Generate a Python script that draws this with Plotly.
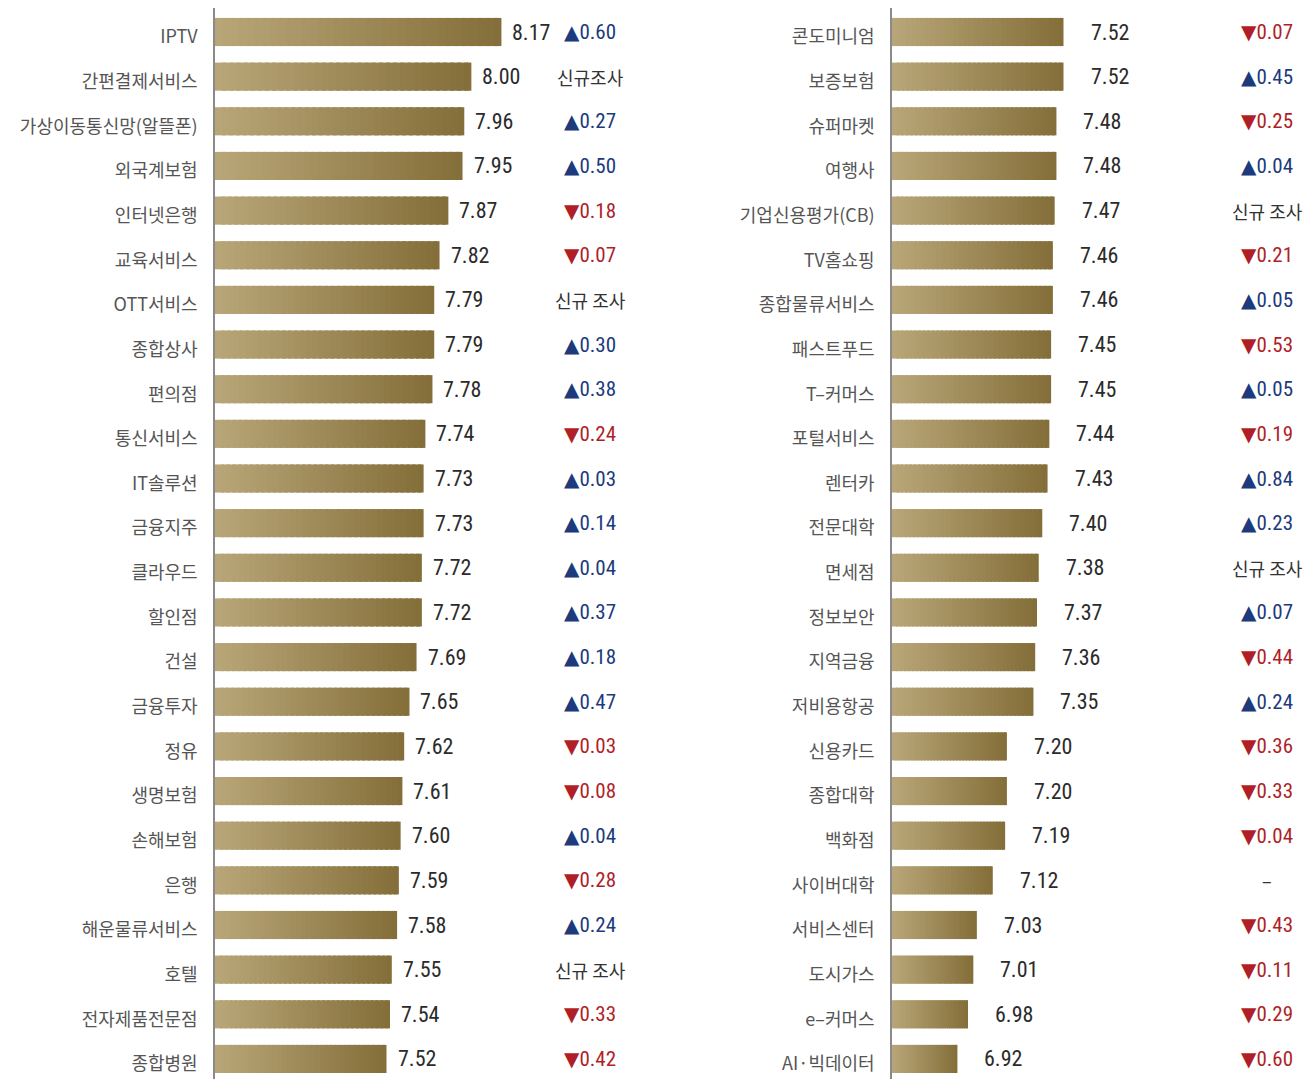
import plotly.graph_objects as go

left_labels = ["IPTV", "간편결제서비스", "가상이동통신망(알뜰폰)", "외국계보험", "인터넷은행", "교육서비스",
               "OTT서비스", "종합상사", "편의점", "통신서비스", "IT솔루션", "금융지주", "클라우드", "할인점",
               "건설", "금융투자", "정유", "생명보험", "손해보험", "은행", "해운물류서비스", "호텔",
               "전자제품전문점", "종합병원"]
left_values = [8.17, 8.00, 7.96, 7.95, 7.87, 7.82, 7.79, 7.79, 7.78, 7.74, 7.73, 7.73, 7.72, 7.72,
               7.69, 7.65, 7.62, 7.61, 7.60, 7.59, 7.58, 7.55, 7.54, 7.52]
left_changes = ["▲0.60", "신규조사", "▲0.27", "▲0.50", "▼0.18", "▼0.07", "신규 조사", "▲0.30", "▲0.38",
                "▼0.24", "▲0.03", "▲0.14", "▲0.04", "▲0.37", "▲0.18", "▲0.47", "▼0.03", "▼0.08",
                "▲0.04", "▼0.28", "▲0.24", "신규 조사", "▼0.33", "▼0.42"]

right_labels = ["콘도미니엄", "보증보험", "슈퍼마켓", "여행사", "기업신용평가(CB)", "TV홈쇼핑", "종합물류서비스",
                "패스트푸드", "T–커머스", "포털서비스", "렌터카", "전문대학", "면세점", "정보보안", "지역금융",
                "저비용항공", "신용카드", "종합대학", "백화점", "사이버대학", "서비스센터", "도시가스",
                "e–커머스", "AI·빅데이터"]
right_values = [7.52, 7.52, 7.48, 7.48, 7.47, 7.46, 7.46, 7.45, 7.45, 7.44, 7.43, 7.40, 7.38, 7.37,
                7.36, 7.35, 7.20, 7.20, 7.19, 7.12, 7.03, 7.01, 6.98, 6.92]
right_changes = ["▼0.07", "▲0.45", "▼0.25", "▲0.04", "신규 조사", "▼0.21", "▲0.05", "▼0.53", "▲0.05",
                 "▼0.19", "▲0.84", "▲0.23", "신규 조사", "▲0.07", "▼0.44", "▲0.24", "▼0.36", "▼0.33",
                 "▼0.04", "–", "▼0.43", "▼0.11", "▼0.29", "▼0.60"]

# page offset: the browser places the figure 8px from the top-left corner
OFF = 8
W, H = 1314 - OFF, 1079 - OFF
AXIS_MIN = 6.55
PX_PER_UNIT = 176.8
ROW_PX = 44.65
TOP_PX = 0
FIRST_ROW_PX = 32 - OFF

C_LIGHT = (185, 166, 120)
C_DARK = (132, 111, 58)
N_SEG = 36

NUM_FONT = "Liberation Sans Narrow, Arial Narrow, Roboto Condensed, Roboto, sans-serif"

def lerp(c1, c2, t):
    return "rgb(%d,%d,%d)" % tuple(round(a + (b - a) * t) for a, b in zip(c1, c2))

fig = go.Figure()

panels = [
    dict(labels=left_labels, values=left_values, changes=left_changes, x0=215 - OFF, x1=650 - OFF,
         xa="x", ya="y", val_shift=9, chg_x=590 - OFF),
    dict(labels=right_labels, values=right_values, changes=right_changes, x0=892 - OFF, x1=1314 - OFF,
         xa="x2", ya="y2", val_shift=25, chg_x=1267 - OFF),
]

n = len(left_labels)
y_top = -(FIRST_ROW_PX - TOP_PX) / ROW_PX
y_bot = (n - 1) + (H - (FIRST_ROW_PX + (n - 1) * ROW_PX)) / ROW_PX

annotations = []
for p in panels:
    idx = list(range(len(p["values"])))
    seg_y, seg_x, seg_base, seg_col = [], [], [], []
    for i, v in zip(idx, p["values"]):
        step = (v - AXIS_MIN) / N_SEG
        for k in range(N_SEG):
            w = step * (1.6 if k < N_SEG - 1 else 1.0)
            seg_y.append(i)
            seg_x.append(w)
            seg_base.append(AXIS_MIN + k * step)
            seg_col.append(lerp(C_LIGHT, C_DARK, k / (N_SEG - 1)))
    fig.add_trace(go.Bar(
        y=seg_y, x=seg_x, base=seg_base, orientation="h",
        marker=dict(color=seg_col, line=dict(width=0)),
        width=0.63, xaxis=p["xa"], yaxis=p["ya"], showlegend=False, hoverinfo="skip",
    ))
    for i, v, c in zip(idx, p["values"], p["changes"]):
        annotations.append(dict(
            x=v, y=i, xref=p["xa"], yref=p["ya"], text=f"{v:.2f}", showarrow=False,
            xanchor="left", xshift=p["val_shift"], yshift=0,
            font=dict(family=NUM_FONT, size=22, color="#2b2b2b"),
        ))
        if c[0] in "▲▼":
            col = "#1c3a7c" if c[0] == "▲" else "#b01f27"
            text = "<span style='font-family:DejaVu Sans;font-size:20px'>%s</span>%s" % (c[0], c[1:])
            fam, sz = NUM_FONT, 21
        else:
            col, fam, sz, text = "#333333", "Noto Sans CJK KR", 18, c
        annotations.append(dict(
            x=p["chg_x"] / W, y=i, xref="paper", yref=p["ya"], text=text, showarrow=False,
            xanchor="center", yshift=0, font=dict(family=fam, size=sz, color=col),
        ))

ydom = [0, 1]
for p, (xk, yk) in zip(panels, [("xaxis", "yaxis"), ("xaxis2", "yaxis2")]):
    rng_max = AXIS_MIN + (p["x1"] - p["x0"]) / PX_PER_UNIT
    fig.layout[xk] = dict(domain=[p["x0"] / W, min(p["x1"] / W, 1)], range=[AXIS_MIN, rng_max],
                          visible=False, anchor=p["ya"], fixedrange=True)
    fig.layout[yk] = dict(domain=ydom, range=[y_bot, y_top], anchor=p["xa"],
                          tickvals=list(range(n)), ticktext=p["labels"],
                          showline=True, linecolor="#8a8a8a", linewidth=1.5,
                          showgrid=False, zeroline=False, ticks="", ticklabelstandoff=12,
                          ticklabelshift=-5,
                          tickfont=dict(family="Noto Sans CJK KR", size=18, color="#555555"))

fig.update_layout(
    width=W, height=H, margin=dict(l=0, r=0, t=0, b=0),
    paper_bgcolor="white", plot_bgcolor="white",
    barmode="overlay", bargap=0.37, annotations=annotations,
)

fig.write_html("out.html")
